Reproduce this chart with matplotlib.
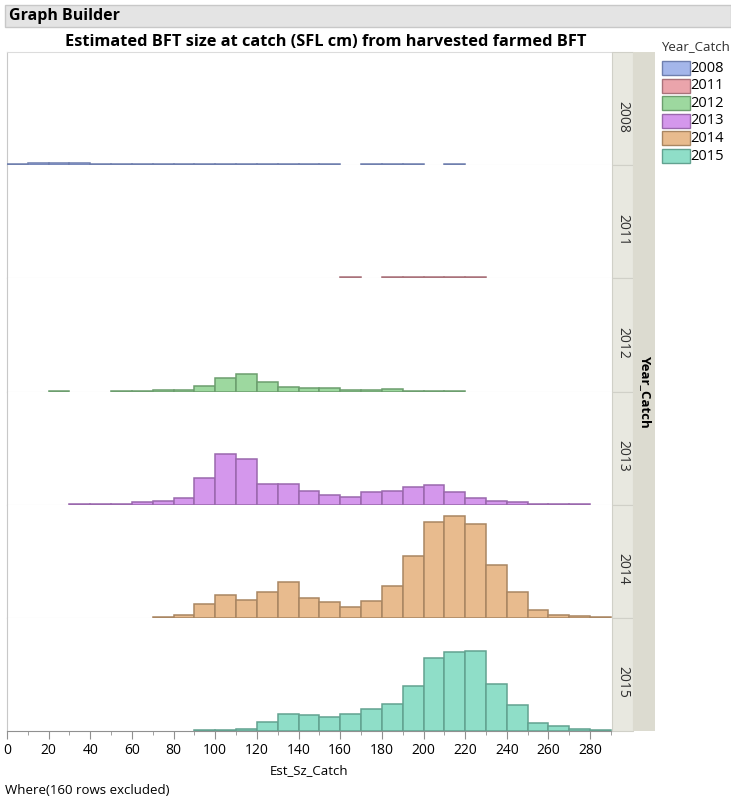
import matplotlib
matplotlib.use("Agg")
import matplotlib.pyplot as plt
from matplotlib.patches import Rectangle

plt.rcParams['font.family'] = ['Open Sans', 'DejaVu Sans']

# bin left edges (bin width 10)
bins = list(range(0, 290, 10))
years = ['2008', '2011', '2012', '2013', '2014', '2015']

counts_2008 = [3, 6, 6, 6, 3, 3, 3, 3, 3, 3, 3, 3, 3, 3, 3, 3, 0, 3, 3, 3, 0, 3, 0, 0, 0, 0, 0, 0, 0]
counts_2011 = [0, 0, 0, 0, 0, 0, 0, 0, 0, 0, 0, 0, 0, 0, 0, 0, 3, 0, 3, 3, 3, 3, 3, 0, 0, 0, 0, 0, 0]
counts_2012 = [0, 0, 3, 0, 0, 2, 2, 5, 6, 17, 40, 53, 28, 13, 10, 10, 6, 6, 7, 3, 3, 3, 0, 0, 0, 0, 0, 0, 0]
counts_2013 = [0, 0, 0, 2, 2, 2, 7, 11, 19, 79, 153, 136, 62, 62, 41, 28, 23, 38, 41, 52, 59, 38, 20, 11, 7, 3, 2, 2, 0]
counts_2014 = [0, 0, 0, 0, 0, 0, 0, 2, 9, 43, 68, 55, 79, 108, 61, 47, 34, 52, 96, 187, 289, 307, 282, 160, 79, 23, 9, 5, 2]
counts_2015 = [0, 0, 0, 0, 0, 0, 0, 0, 0, 3, 3, 7, 27, 50, 47, 43, 51, 65, 82, 135, 218, 236, 240, 142, 79, 23, 16, 7, 3]
all_counts = [counts_2008, counts_2011, counts_2012, counts_2013, counts_2014, counts_2015]

fills = ['#a4b6ea', '#eaa4ab', '#9dd89f', '#d497ec', '#e8bb8e', '#8fdec8']
edges = ['#6f7fae', '#a9727a', '#6c9e6e', '#9a68ad', '#a98662', '#62a290']

W, H = 731, 802
fig = plt.figure(figsize=(W / 100, H / 100), dpi=100)


def box(x0, y0, x1, y1):
    # pixel box (top-left origin) -> figure fraction rect
    return [x0 / W, 1 - y1 / H, (x1 - x0) / W, (y1 - y0) / H]


def fx(x):
    return x / W


def fy(y):
    return 1 - y / H


# header bar
fig.patches.append(Rectangle((fx(5), fy(27)), (731 - 5) / W, 22 / H, transform=fig.transFigure,
                             facecolor='#e4e4e4', edgecolor='#c8c8c8', lw=1))
fig.text(fx(9), fy(16), 'Graph Builder', fontsize=11.5, fontweight='bold', va='center', ha='left')

# title
fig.text(fx(326), fy(42), 'Estimated BFT size at catch (SFL cm) from harvested farmed BFT',
         fontsize=11.8, fontweight='bold', ha='center', va='center')

top, bottom = 52, 731
left, right = 7, 612
ph = (bottom - top) / len(years)

axes = []
for i, (yr, c) in enumerate(zip(years, all_counts)):
    y0 = top + i * ph
    ax = fig.add_axes(box(left, y0, right, y0 + ph))
    # empty bins are not drawn (no baseline outline)
    xs = [b for b, n in zip(bins, c) if n > 0]
    hs = [n for n in c if n > 0]
    ax.bar(xs, hs, width=10, align='edge', color=fills[i], edgecolor=edges[i], linewidth=1.1, zorder=3)
    ax.set_xlim(0, 290.5)
    ax.set_ylim(0, 340)
    ax.set_yticks([])
    ax.spines['right'].set_visible(False)
    ax.spines['top'].set_visible(i == 0)
    ax.spines['top'].set_color('#dcdcdc')
    ax.spines['left'].set_color('#c8c8c8')
    ax.spines['bottom'].set_color('#dcdcdc')
    if i < len(years) - 1:
        ax.set_xticks([])
    axes.append(ax)

    # panel strip
    fig.patches.append(Rectangle((fx(612), fy(y0 + ph)), 21 / W, ph / H, transform=fig.transFigure,
                                 facecolor='#e8e8e0', edgecolor='#d0d0c8', lw=0.8))
    fig.text(fx(623), fy(y0 + ph / 2 + 8), yr, rotation=-90, fontsize=10, ha='center', va='center',
             color='#303030')

axb = axes[-1]
axb.set_xticks(range(0, 290, 20))
axb.set_xticks(range(0, 291, 10), minor=True)
axb.tick_params(axis='x', which='major', length=6, color='#909090', labelsize=10, pad=3)
axb.tick_params(axis='x', which='minor', length=3, color='#909090')
axb.spines['bottom'].set_color('#909090')
axb.set_xlabel('Est_Sz_Catch', fontsize=9.5, labelpad=4)

# outer strip
fig.patches.append(Rectangle((fx(633), fy(bottom)), 22 / W, (bottom - top) / H, transform=fig.transFigure,
                             facecolor='#dcdbd0', edgecolor='none'))
fig.text(fx(645), fy(391), 'Year_Catch', rotation=-90, fontsize=9.5, fontweight='bold',
         ha='center', va='center')

# legend
fig.text(fx(661), fy(47), 'Year_Catch', fontsize=9.5, ha='left', va='center', color='#303030')
for i, yr in enumerate(years):
    yy = 68 + i * 17.6
    fig.patches.append(Rectangle((fx(662), fy(yy + 7)), 28 / W, 14 / H, transform=fig.transFigure,
                                 facecolor=fills[i], edgecolor=edges[i], lw=1))
    fig.text(fx(690), fy(yy), yr, fontsize=10.5, ha='left', va='center')

fig.text(fx(5), fy(790), 'Where(160 rows excluded)', fontsize=9.5, ha='left', va='center')

fig.savefig('out.png', dpi=100)
